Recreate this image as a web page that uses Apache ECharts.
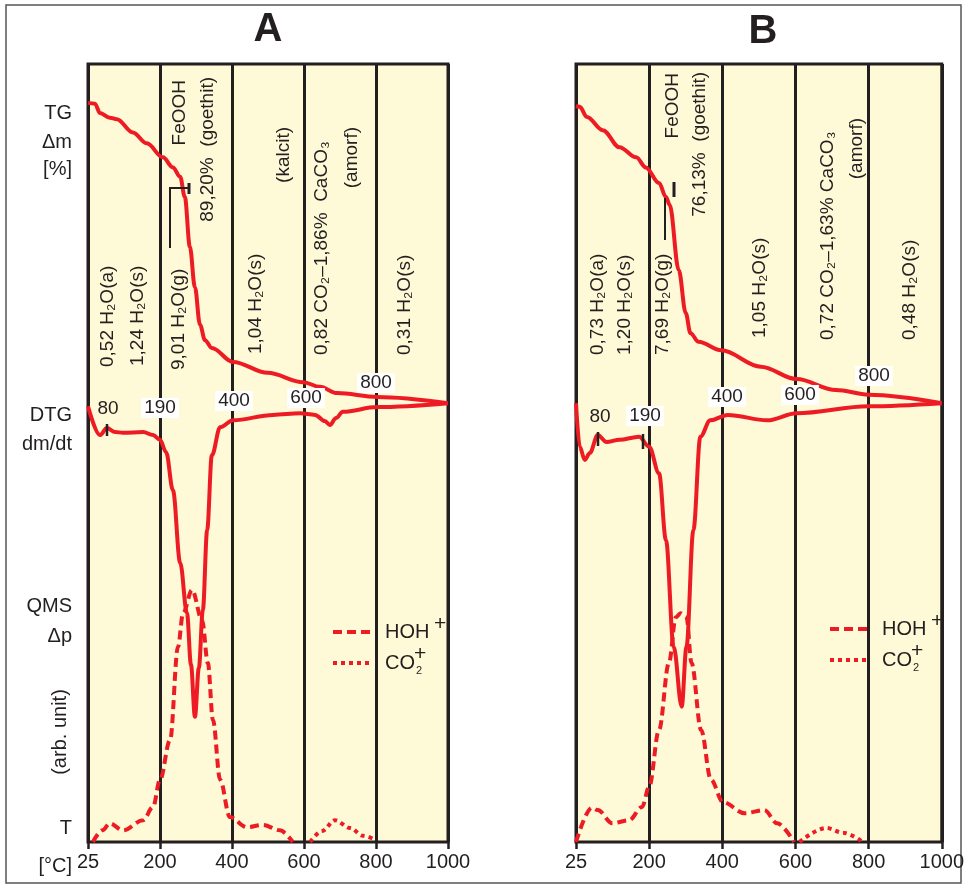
<!DOCTYPE html>
<html>
<head>
<meta charset="utf-8">
<script src="https://cdn.jsdelivr.net/npm/echarts@6/dist/echarts.min.js"></script>
<style>
html, body { margin: 0; background: #fff; }
#chart { width: 967px; height: 888px; }
</style>
</head>
<body>
<div id="chart"></div>
<script>
// temperature ticks (the axis is equally spaced between them)
var tempTicks = [25, 200, 400, 600, 800, 1000]

// panel A, [T in °C, signal in arb. units 0..100]
var tgA = [[25, 95.0], [42, 94.9], [54, 93.7], [78, 93.1], [95, 92.9], [134, 91.2], [168, 89.8], [208, 88.0], [236, 86.7], [256, 85.5], [269, 82.9], [283, 76.5], [297, 71.3], [311, 66.5], [325, 64.5], [344, 63.5], [403, 61.7], [499, 60.3], [598, 59.1], [644, 58.5], [692, 57.7], [803, 57.2], [1000, 56.4]]
var dtgA = [[25, 56.0], [54, 52.3], [71, 53.2], [91, 52.7], [110, 52.6], [159, 52.7], [183, 52.3], [200, 51.7], [217, 50.1], [236, 45.2], [256, 35.9], [275, 29.4], [286, 22.8], [297, 16.1], [308, 22.4], [319, 29.8], [331, 40.1], [344, 49.7], [367, 53.3], [403, 54.2], [514, 54.9], [589, 55.1], [631, 54.9], [658, 54.1], [672, 53.6], [689, 54.5], [708, 55.3], [803, 55.9], [1000, 56.4]]
var hohA = [[37, 0], [60, 1.5], [78, 2.4], [110, 1.5], [159, 2.8], [183, 4.5], [200, 8.0], [228, 13.1], [250, 25.1], [264, 29.4], [289, 32.4], [317, 28.5], [333, 23.0], [347, 15.7], [367, 8.0], [394, 3.2], [442, 1.9], [486, 2.2], [533, 1.5], [569, 0]]
var co2A = [[617, 0], [650, 1.4], [686, 2.8], [728, 1.8], [764, 0.8], [797, 0.3]]

// panel B
var tgB = [[25, 94.6], [34, 94.5], [51, 93.2], [89, 91.5], [129, 89.3], [169, 88.0], [192, 86.7], [227, 84.7], [246, 82.9], [256, 81.9], [281, 73.5], [300, 68.0], [313, 65.4], [335, 64.3], [397, 63.2], [505, 61.1], [603, 59.5], [711, 58.1], [800, 57.5], [1000, 56.4]]
var dtgB = [[25, 56.4], [34, 50.8], [46, 49.1], [58, 50.0], [77, 52.3], [98, 51.4], [129, 51.7], [176, 52.1], [200, 50.8], [227, 47.4], [246, 38.8], [267, 25.1], [289, 17.4], [302, 25.1], [321, 40.1], [340, 52.1], [367, 54.2], [415, 54.9], [523, 54.2], [603, 55.1], [800, 56.0], [1000, 56.4]]
var hohB = [[25, 0], [63, 4.4], [77, 4.1], [112, 2.4], [152, 2.8], [183, 4.5], [200, 7.1], [227, 14.4], [254, 23.0], [273, 28.9], [286, 29.4], [302, 28.9], [316, 23.0], [342, 14.4], [369, 8.0], [402, 5.1], [461, 3.7], [515, 4.1], [550, 2.4], [596, 0]]
var co2B = [[611, 0], [684, 1.8], [730, 1.2], [784, 0]]

var ink = '#231f20'
var red = '#ed1c24'
var paper = '#fef9d6'
var fam = '"Liberation Sans", Arial, sans-serif'

// temperature -> position on the equally spaced axis
function tPos(t) {
  for (var i = 0; i < tempTicks.length - 1; i++) {
    if (t <= tempTicks[i + 1]) return i + (t - tempTicks[i]) / (tempTicks[i + 1] - tempTicks[i])
  }
  return tempTicks.length - 1
}
function toXY(arr) {
  return arr.map(function(p) { return [tPos(p[0]), p[1]] })
}

function grid(left, width) {
  return { left: left, top: 64, width: width, height: 778, show: true, backgroundColor: paper, borderColor: ink, borderWidth: 3 }
}
function xAxis(gi) {
  return {
    gridIndex: gi, type: 'value', min: 0, max: 5, interval: 1,
    axisLine: { show: false },
    axisTick: { show: true, length: 7, lineStyle: { color: ink, width: 2.5 } },
    axisLabel: { color: ink, fontSize: 20, fontFamily: fam, margin: 10, formatter: function(v) { return tempTicks[Math.round(v)] } },
    splitLine: { show: true, lineStyle: { color: ink, width: 3 } }
  }
}
function yAxis(gi) {
  return { gridIndex: gi, type: 'value', min: 0, max: 100, show: false }
}
function line(gi, data, type, width) {
  return {
    type: 'line', xAxisIndex: gi, yAxisIndex: gi, data: toXY(data),
    symbol: 'none', smooth: 0.35, smoothMonotone: 'x', silent: true,
    lineStyle: { color: red, width: width, type: type, cap: 'butt' }
  }
}

var myChart = echarts.init(document.getElementById('chart'))
var option = {
  animation: false,
  backgroundColor: '#fff',
  grid: [grid(88, 360), grid(576, 371)],
  xAxis: [xAxis(0), xAxis(1)],
  yAxis: [yAxis(0), yAxis(1)],
  series: [
    line(0, hohA, [9, 5], 4),
    line(0, co2A, [4, 4], 4),
    line(0, tgA, 'solid', 4),
    line(0, dtgA, 'solid', 4),
    line(1, hohB, [9, 5], 4),
    line(1, co2B, [4, 4], 4),
    line(1, tgB, 'solid', 4),
    line(1, dtgB, 'solid', 4)
  ]
}
myChart.setOption(option)

// ---- annotations ----
function txt(x, y, text, size, align, extra) {
  var s = { text: text, fill: ink, fontSize: size, fontFamily: fam, align: align || 'right', verticalAlign: 'middle' }
  for (var k in extra) s[k] = extra[k]
  return { type: 'text', x: x, y: y, style: s, z: 100 }
}
function vtxt(x, y, text, align) {
  var t = txt(x, y, text, 19, align)
  t.rotation = Math.PI / 2
  return t
}
function seg(x1, y1, x2, y2, w) {
  return { type: 'line', shape: { x1: x1, y1: y1, x2: x2, y2: y2 }, style: { stroke: ink, lineWidth: w || 2 }, z: 100 }
}
function boxLabel(x, y, text, bg) {
  return txt(x, y, text, 19, 'center', bg ? { backgroundColor: '#fff', padding: [1, 3, 0, 3] } : {})
}
function legend(x, y, dash, isCO2) {
  var items = [
    { type: 'line', shape: { x1: x, y1: y, x2: x + 39, y2: y }, style: { stroke: red, lineWidth: 4, lineDash: dash }, z: 100 }
  ]
  if (isCO2) {
    items.push(txt(x + 52, y, 'CO', 20, 'left'))
    items.push(txt(x + 83, y + 8, '2', 11, 'left'))
    items.push(txt(x + 81, y - 9, '+', 21, 'left'))
  } else {
    items.push(txt(x + 52, y, 'HOH', 20, 'left'))
    items.push(txt(x + 101, y - 8, '+', 21, 'left'))
  }
  return items
}

var g = [
  { type: 'rect', shape: { x: 6, y: 5, width: 955, height: 878 }, style: { fill: 'none', stroke: '#555', lineWidth: 1.5 } },
  txt(268, 30, 'A', 40, 'center', { fontWeight: 'bold' }),
  txt(763, 32, 'B', 40, 'center', { fontWeight: 'bold' }),
  // left labels
  txt(72, 113, 'TG', 20), txt(72, 142, 'Δm', 20), txt(72, 169, '[%]', 20),
  txt(72, 415, 'DTG', 20), txt(72, 444, 'dm/dt', 20),
  txt(72, 606, 'QMS', 20), txt(72, 636, 'Δp', 20),
  txt(72, 828, 'T', 20), txt(72, 866, '[°C]', 20),
  // panel A column notes
  vtxt(108, 367, '0,52 H₂O(a)', 'left'),
  vtxt(138, 366, '1,24 H₂O(s)', 'left'),
  vtxt(179, 370, '9,01 H₂O(g)', 'left'),
  vtxt(180, 80, 'FeOOH', 'right'),
  vtxt(208, 77, '89,20%  (goethit)', 'right'),
  vtxt(256, 354, '1,04 H₂O(s)', 'left'),
  vtxt(284, 127, '(kalcit)', 'right'),
  vtxt(322, 355, '0,82 CO₂–1,86%  CaCO₃', 'left'),
  vtxt(352, 127, '(amorf)', 'right'),
  vtxt(405, 355, '0,31 H₂O(s)', 'left'),
  seg(170, 188, 190, 188, 2), seg(170, 187, 170, 248, 2), seg(189, 183, 189, 194, 3),
  // panel B column notes
  vtxt(598, 355, '0,73 H₂O(a)', 'left'),
  vtxt(625, 355, '1,20 H₂O(s)', 'left'),
  vtxt(663, 355, '7,69 H₂O(g)', 'left'),
  vtxt(673, 73, 'FeOOH', 'right'),
  vtxt(700, 72, '76,13%  (goethit)', 'right'),
  vtxt(760, 338, '1,05 H₂O(s)', 'left'),
  vtxt(828, 340, '0,72 CO₂–1,63% CaCO₃', 'left'),
  vtxt(857, 118, '(amorf)', 'right'),
  vtxt(910, 340, '0,48 H₂O(s)', 'left'),
  seg(665, 198, 665, 240, 2), seg(674, 182, 674, 197, 3),
  // DTG temperature marks
  boxLabel(108, 409, '80', false), boxLabel(160, 408, '190', true),
  boxLabel(234, 401, '400', true), boxLabel(306, 398, '600', true), boxLabel(376, 383, '800', true),
  seg(107, 424, 107, 436, 2.5),
  boxLabel(600, 417, '80', false), boxLabel(645, 416, '190', true),
  boxLabel(727, 397, '400', true), boxLabel(800, 395, '600', true), boxLabel(874, 376, '800', true),
  seg(598, 432, 598, 446, 2.5), seg(643, 434, 643, 449, 2.5)
]
var arb = txt(60, 732, '(arb. unit)', 20, 'center')
arb.rotation = Math.PI / 2
g.push(arb)
g = g.concat(legend(333, 632, [9, 5], false), legend(333, 663, [4, 4], true))
g = g.concat(legend(830, 629, [9, 5], false), legend(830, 660, [4, 4], true))

myChart.setOption({ graphic: g })

window.onresize = function() {
  myChart.resize()
}
</script>
</body>
</html>
